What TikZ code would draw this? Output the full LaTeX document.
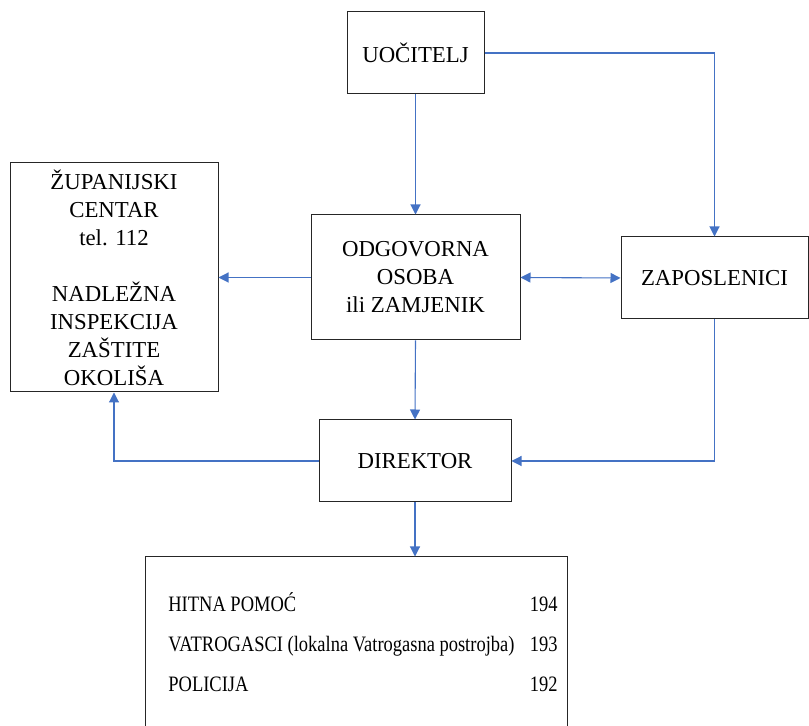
\documentclass[tikz,border=0pt]{standalone}
\usepackage{fontspec}
\setmainfont{Liberation Serif}
\usetikzlibrary{arrows.meta,positioning}
\definecolor{wblue}{RGB}{68,114,196}

\begin{document}
\begin{tikzpicture}[x=0.5pt,y=-0.5pt,>={Triangle[length=5pt,width=5pt]},
  every node/.style={font=\fontsize{11.4}{14}\selectfont},
  box/.style={draw=black!85,line width=0.5pt,align=center,inner sep=0pt},
  entry/.style={inner sep=0pt,font=\fontsize{11}{13}\selectfont},
  link/.style={->,wblue,line width=0.55pt}]
  \clip (0,0) rectangle (809,726);
  % boxes
  \node[box,minimum width=68.5pt,minimum height=41pt] (uoc) at (415.5,53) {UOČITELJ};
  \node[box,minimum width=104.5pt,minimum height=62.5pt] (odg) at (415.5,277.5) {ODGOVORNA\\OSOBA\\ili ZAMJENIK};
  \node[box,minimum width=104pt,minimum height=114.5pt] (zup) at (114,277.5)
    {ŽUPANIJSKI\\CENTAR\\tel. 112\\[14pt]NADLEŽNA\\INSPEKCIJA\\ZAŠTITE\\OKOLIŠA};
  \node[box,minimum width=93.5pt,minimum height=41pt] (zap) at (714.5,278) {ZAPOSLENICI};
  \node[box,minimum width=96pt,minimum height=41pt] (dir) at (415,461) {DIREKTOR};
  \node[box,minimum width=211pt,minimum height=101.5pt] (pozivi) at (356,658.5) {};
  % emergency numbers
  \node[entry,anchor=base west] (hitna) at (168,612) {\scalebox{0.84}[1]{HITNA POMOĆ}};
  \node[entry,anchor=base east] (hitnabr) at (558,612) {\scalebox{0.84}[1]{194}};
  \node[entry,anchor=base west] (vatro) at (168,652) {\scalebox{0.84}[1]{VATROGASCI (lokalna Vatrogasna postrojba)}};
  \node[entry,anchor=base east] (vatrobr) at (558,652) {\scalebox{0.84}[1]{193}};
  \node[entry,anchor=base west] (polic) at (168,692) {\scalebox{0.84}[1]{POLICIJA}};
  \node[entry,anchor=base east] (policbr) at (558,692) {\scalebox{0.84}[1]{192}};
  % connectors
  \draw[link] (uoc.east) -| (zap.north);
  \draw[link] (uoc.south) -- (odg.north);
  \draw[link] (odg.west) -- (zup.east);
  \draw[link,<->] (odg.east) -- (zap.west);
  \draw[link] (odg.south) -- (dir.north);
  \draw[link] (zap.south) |- (dir.east);
  \draw[link] (dir.west) -| (zup.south);
  \draw[link] (dir.south) -- (dir.south |- pozivi.north);
\end{tikzpicture}
\end{document}
